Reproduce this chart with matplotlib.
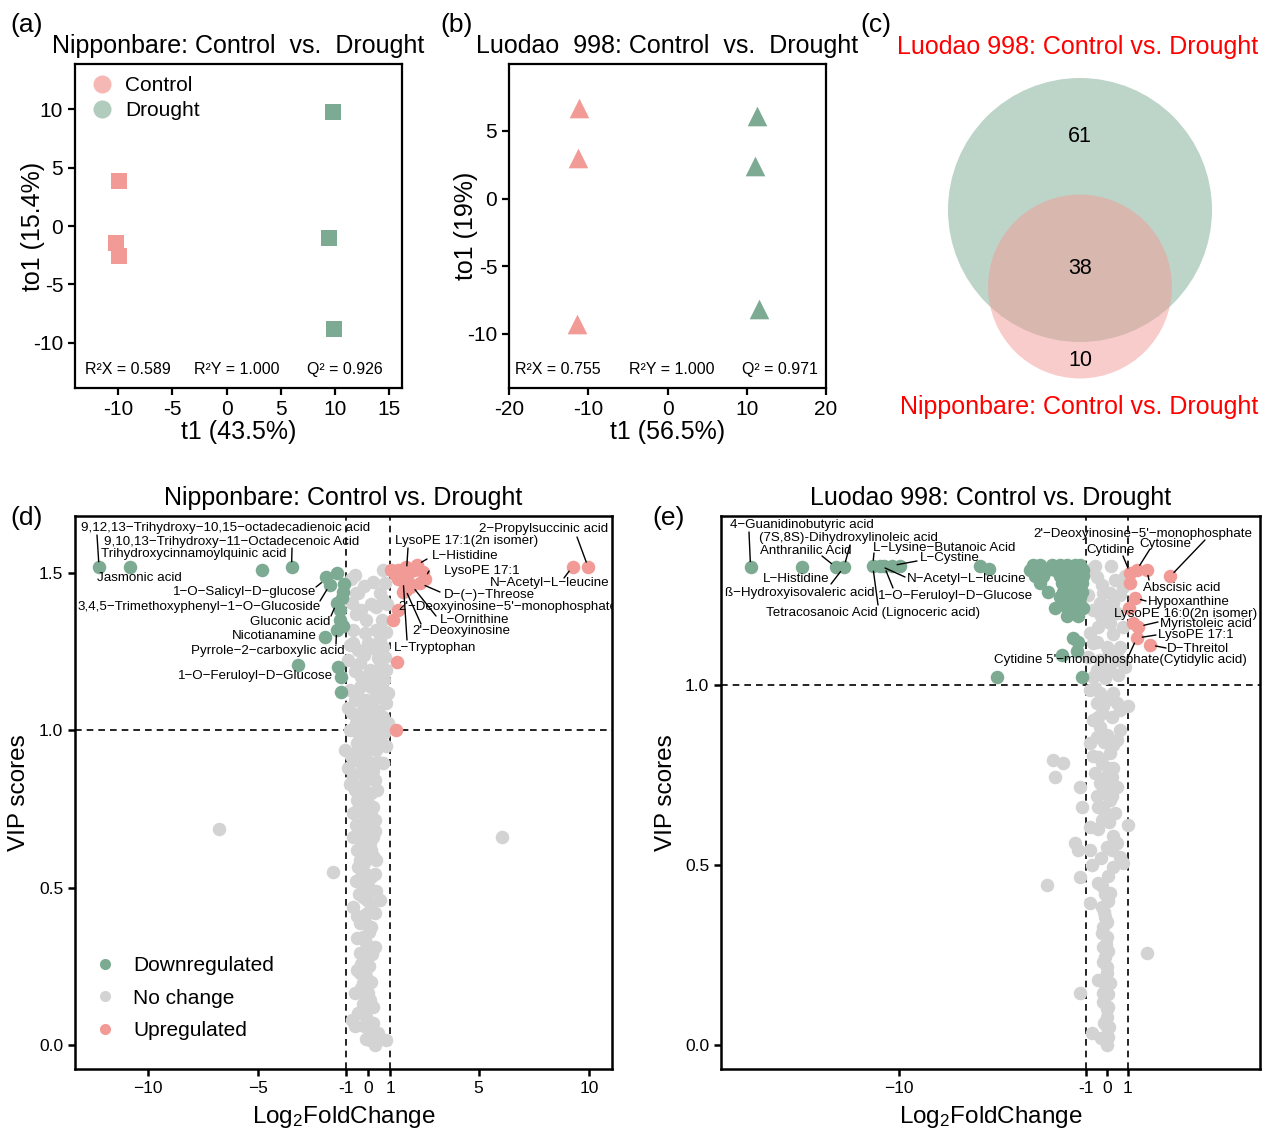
import matplotlib
matplotlib.use("Agg")
import matplotlib.pyplot as plt
from matplotlib.patches import Circle
from matplotlib.lines import Line2D
from matplotlib.transforms import IdentityTransform

plt.rcParams['font.family'] = ['Liberation Sans', 'DejaVu Sans']
plt.rcParams['mathtext.fontset'] = 'custom'
plt.rcParams['mathtext.rm'] = 'Liberation Sans'
plt.rcParams['mathtext.default'] = 'regular'
plt.rcParams['axes.unicode_minus'] = False

W, H = 1262, 1130
GREEN = '#7DAA92'
RED = '#F29B96'
GREY = '#D3D3D3'

# ---- OPLS-DA scores ----
a_control_t1 = [-9.9, -10.2, -9.9]
a_control_to1 = [3.9, -1.5, -2.6]
a_drought_t1 = [9.85, 9.5, 9.95]
a_drought_to1 = [9.74, -1.07, -8.8]
a_stats = ['R²X = 0.589', 'R²Y = 1.000', 'Q² = 0.926']

b_control_t1 = [-11.2, -11.3, -11.4]
b_control_to1 = [6.7, 3.0, -9.3]
b_drought_t1 = [11.3, 11.1, 11.5]
b_drought_to1 = [6.1, 2.4, -8.15]
b_stats = ['R²X = 0.755', 'R²Y = 1.000', 'Q² = 0.971']

# ---- Venn counts ----
venn_only_luodao = 61
venn_shared = 38
venn_only_nip = 10

# ---- volcano (d) Nipponbare ----
d_grey = [(-0.61, 1.493), (0.67, 1.509), (0.75, 1.467), (-0.54, 1.435), (-0.46, 1.435), (0.52, 1.435),
          (-0.76, 1.403), (-0.31, 1.382), (0.37, 1.393), (0.67, 1.414),
          (-0.69, 1.319), (-0.09, 1.350), (0.60, 1.350), (0.82, 1.313),
          (-0.69, 1.276), (-0.46, 1.255), (-0.01, 1.276), (0.29, 1.260), (0.67, 1.266), (0.75, 1.234),
          (-0.92, 1.223), (-0.39, 1.213), (0.07, 1.192), (0.52, 1.202), (0.82, 1.192), (-0.31, 1.170), (0.22, 1.170),
          (-0.84, 1.128), (-0.39, 1.139), (0.14, 1.139), (0.60, 1.139), (-0.61, 1.096), (-0.09, 1.096), (0.45, 1.107),
          (0.82, 1.086), (-0.76, 1.054), (-0.24, 1.064), (0.22, 1.043), (0.67, 1.043), (0.90, 1.022), (-0.54, 1.022),
          (-0.09, 1.022), (-0.69, 1.001), (-0.39, 0.980), (0.14, 0.990), (0.52, 0.969), (-0.16, 0.964),
          (-1.07, 0.937), (-0.61, 0.927), (-0.09, 0.932), (0.37, 0.937), (0.67, 0.895), (-0.54, 0.905), (-0.24, 0.895),
          (-0.92, 0.879), (-0.69, 0.853), (-0.46, 0.821), (-0.09, 0.842), (0.29, 0.842), (-0.61, 0.810), (0.14, 0.800),
          (-0.24, 0.778), (0.22, 0.757), (-0.69, 0.736), (-0.24, 0.736), (-0.31, 0.704), (0.29, 0.715), (-0.16, 0.688),
          (-0.69, 0.662), (-0.09, 0.672), (0.22, 0.662), (-0.31, 0.630), (0.07, 0.641), (-0.24, 0.609), (0.14, 0.620),
          (0.37, 0.588), (-0.39, 0.588), (-0.09, 0.545), (-1.60, 0.551), (-0.31, 0.535), (0.14, 0.535), (-0.24, 0.503),
          (0.29, 0.545), (-0.46, 0.567), (-0.69, 0.439), (-0.24, 0.471), (0.52, 0.461), (0.14, 0.439), (-0.31, 0.408),
          (-0.09, 0.418), (-0.39, 0.387), (0.14, 0.376), (-0.24, 0.344), (0.29, 0.312), (-0.39, 0.291), (-0.09, 0.323),
          (-0.31, 0.259), (-0.16, 0.270), (-0.39, 0.228), (-0.09, 0.217), (-0.24, 0.196), (-0.61, 0.164), (0.0, 0.164),
          (-0.24, 0.132), (0.07, 0.143), (-0.46, 0.101), (-0.09, 0.090), (-0.76, 0.079), (0.22, 0.069),
          (0.0, 0.053), (0.45, 0.037), (0.07, 0.016), (0.82, 0.016), (-6.78, 0.686), (6.05, 0.660),
          (-0.80, 1.48), (-0.20, 1.46), (0.20, 1.47), (0.85, 1.40), (-0.55, 1.37), (0.10, 1.40), (-0.15, 1.31),
          (0.35, 1.32), (0.55, 1.29), (-0.85, 1.27), (-0.20, 1.24), (0.45, 1.23), (-0.60, 1.19), (-0.10, 1.15),
          (0.35, 1.18), (0.70, 1.16), (-0.45, 1.11), (0.25, 1.10), (0.90, 1.12), (-0.90, 1.07), (0.05, 1.06),
          (0.45, 1.06), (-0.35, 1.04), (0.35, 1.01), (-0.85, 1.00), (0.70, 0.99), (-0.20, 0.99), (-0.50, 0.96),
          (0.25, 0.96), (0.80, 0.95), (-0.80, 0.92), (0.05, 0.90), (0.45, 0.90), (-0.35, 0.87), (0.20, 0.87),
          (-0.85, 0.83), (-0.25, 0.82), (0.40, 0.81), (-0.50, 0.78), (0.00, 0.77), (-0.45, 0.75), (0.10, 0.73),
          (-0.55, 0.70), (0.00, 0.70), (-0.45, 0.67), (0.30, 0.68), (-0.15, 0.65), (-0.50, 0.62), (0.20, 0.60),
          (-0.20, 0.58), (-0.55, 0.52), (0.05, 0.50), (0.35, 0.49), (-0.40, 0.48), (-0.05, 0.46), (0.30, 0.42),
          (-0.50, 0.41), (-0.15, 0.39), (0.05, 0.36), (-0.50, 0.34), (-0.05, 0.30), (0.15, 0.29), (-0.25, 0.28),
          (0.05, 0.25), (-0.50, 0.24), (-0.15, 0.23), (0.10, 0.20), (-0.35, 0.18), (-0.10, 0.15), (0.20, 0.12),
          (-0.30, 0.11), (-0.60, 0.06), (-0.20, 0.06), (0.25, 0.04), (-0.10, 0.02), (0.30, 0.00)]
d_down = [(-12.21, 1.518), (-10.82, 1.518), (-4.80, 1.509), (-3.48, 1.518), (-1.44, 1.499), (-1.90, 1.488),
          (-1.75, 1.462), (-1.14, 1.440), (-1.20, 1.419), (-1.44, 1.404), (-1.29, 1.382), (-1.29, 1.350),
          (-1.44, 1.319), (-1.97, 1.297), (-3.18, 1.209), (-1.37, 1.202), (-1.22, 1.170), (-1.22, 1.123),
          (-1.10, 1.465), (-1.15, 1.330)]
d_up = [(1.05, 1.509), (1.20, 1.498), (1.35, 1.509), (1.73, 1.520), (2.19, 1.525), (2.49, 1.504), (2.56, 1.482),
        (2.34, 1.467), (1.96, 1.461), (1.66, 1.451), (1.58, 1.477), (1.35, 1.482), (1.81, 1.498), (1.50, 1.510),
        (2.05, 1.510), (1.35, 1.382), (1.12, 1.350), (1.28, 1.218), (1.73, 1.446), (1.58, 1.440), (1.88, 1.456),
        (9.26, 1.520), (9.97, 1.518), (1.25, 1.001)]
# text, left px, centre y px, connector start px, connected point
d_labels = [
    ("9,12,13−Trihydroxy−10,15−octadecadienoic acid", 81, 528, (97, 535), (-12.21, 1.518)),
    ("9,10,13−Trihydroxy−11−Octadecenoic Acid", 104, 542, (292, 548), (-3.48, 1.518)),
    ("Trihydroxycinnamoylquinic acid", 101, 554, None, None),
    ("Jasmonic acid", 97, 578, None, None),
    ("1−O−Salicyl−D−glucose", 173, 592, (316, 587), (-1.93, 1.48)),
    ("3,4,5−Trimethoxyphenyl−1−O−Glucoside", 78, 607, (320, 601), (-1.75, 1.462)),
    ("Gluconic acid", 250, 622, (331, 616), (-1.44, 1.404)),
    ("Nicotianamine", 232, 636, None, None),
    ("Pyrrole−2−carboxylic acid", 191, 651, (336, 644), (-1.44, 1.319)),
    ("1−O−Feruloyl−D−Glucose", 178, 676, None, None),
    ("2−Propylsuccinic acid", 479, 529, (577, 537), (9.97, 1.518)),
    ("LysoPE 17:1(2n isomer)", 395, 541, (408, 548), (1.73, 1.505)),
    ("L−Histidine", 432, 556, (427, 559), (2.19, 1.525)),
    ("LysoPE 17:1", 444, 571, (429, 571), (2.56, 1.482)),
    ("N−Acetyl−L−leucine", 490, 583, (564, 578), (9.26, 1.52)),
    ("D−(−)−Threose", 444, 595, (440, 592), (2.34, 1.467)),
    ("2'−Deoxyinosine−5'−monophosphate", 398, 607, None, None),
    ("L−Ornithine", 440, 620, (436, 616), (1.96, 1.461)),
    ("2'−Deoxyinosine", 412, 631, (421, 624), (1.66, 1.451)),
    ("L−Tryptophan", 394, 648, (407, 640), (1.58, 1.477)),
]

# ---- volcano (e) Luodao 998 ----
e_grey = [(-0.82, 1.319), (-0.26, 1.278), (-0.18, 1.254), (0.14, 1.254), (0.86, 1.301), (0.78, 1.273),
          (-0.34, 1.227), (0.30, 1.227), (-0.66, 1.208), (0.06, 1.199), (-0.42, 1.162), (-0.82, 1.143),
          (0.14, 1.171), (0.78, 1.162), (-0.66, 1.116), (-0.02, 1.106), (0.62, 1.106), (-0.90, 1.078),
          (-0.34, 1.069), (0.38, 1.069), (0.78, 1.060), (-0.50, 1.041), (0.14, 1.041), (-0.66, 1.023),
          (-0.10, 1.018), (0.54, 1.028), (-0.82, 0.986), (-0.34, 0.977), (0.30, 0.977), (-0.50, 0.949),
          (0.46, 0.949), (1.02, 0.940), (-0.26, 0.921), (-0.66, 0.903), (0.22, 0.912), (-0.34, 0.884),
          (0.62, 0.875), (-0.50, 0.856), (0.46, 0.847), (-0.82, 0.838), (0.30, 0.833), (-0.66, 0.801),
          (-0.26, 0.782), (0.06, 0.768), (-0.58, 0.754), (-0.34, 0.727), (0.22, 0.745), (0.46, 0.717),
          (-0.26, 0.699), (0.14, 0.680), (-2.58, 0.791), (-2.10, 0.782), (-2.50, 0.745), (-1.30, 0.717),
          (-1.22, 0.662), (-0.42, 0.662), (-0.10, 0.643), (0.38, 0.643), (-0.82, 0.606), (-0.26, 0.625),
          (1.02, 0.611), (0.30, 0.579), (-1.54, 0.560), (-1.38, 0.541), (-0.82, 0.541), (0.22, 0.541),
          (0.62, 0.523), (0.78, 0.504), (0.30, 0.495), (-0.74, 0.500), (-1.30, 0.467), (-2.90, 0.444),
          (-0.26, 0.440), (0.14, 0.421), (-0.82, 0.393), (-0.26, 0.384), (-0.10, 0.356), (-0.18, 0.328),
          (-0.02, 0.301), (-0.18, 0.273), (-0.10, 0.245), (1.91, 0.254), (-0.02, 0.217), (-0.42, 0.180),
          (0.14, 0.171), (-1.30, 0.143), (-0.18, 0.143), (0.06, 0.106), (-0.02, 0.078), (-0.74, 0.032),
          (-0.02, 0.051), (0.06, 0.023),
          (-0.50, 1.30), (0.40, 1.29), (-0.05, 1.22), (0.50, 1.20), (-0.30, 1.19), (0.30, 1.14), (-0.50, 1.12),
          (0.10, 1.09), (0.50, 1.09), (-0.20, 1.05), (0.85, 1.05), (-0.60, 0.99), (0.10, 0.96), (-0.20, 0.94),
          (0.60, 0.93), (-0.45, 0.91), (0.00, 0.86), (-0.15, 0.84), (0.15, 0.81), (-0.45, 0.80), (0.30, 0.77),
          (-0.10, 0.74), (0.00, 0.71), (-0.50, 0.69), (0.25, 0.69), (-0.20, 0.66), (0.10, 0.62), (-0.45, 0.60),
          (0.50, 0.56), (0.00, 0.55), (-0.30, 0.52), (0.05, 0.47), (-0.45, 0.45), (-0.10, 0.42), (0.05, 0.40),
          (-0.15, 0.37), (0.00, 0.34), (-0.25, 0.31), (-0.05, 0.28), (0.05, 0.26), (-0.20, 0.23), (0.00, 0.20),
          (-0.10, 0.17), (0.05, 0.14), (-0.20, 0.12), (0.00, 0.10), (-0.15, 0.06), (0.10, 0.05), (-0.30, 0.02),
          (0.00, 0.00), (-0.60, 1.33), (0.20, 1.33), (-0.90, 1.25), (0.60, 1.25)]
e_down = [(-17.13, 1.327), (-14.68, 1.327), (-13.03, 1.327), (-12.64, 1.327), (-11.26, 1.331), (-10.91, 1.331),
          (-10.72, 1.331), (-10.35, 1.331), (-9.95, 1.331), (-6.11, 1.329), (-5.66, 1.321),
          (-3.54, 1.333), (-3.22, 1.333), (-2.66, 1.333), (-2.26, 1.333), (-1.94, 1.333), (-1.54, 1.333), (-1.30, 1.333),
          (-3.70, 1.319), (-3.38, 1.319), (-2.90, 1.319), (-2.50, 1.319), (-2.10, 1.319), (-1.70, 1.319),
          (-1.38, 1.319), (-1.14, 1.319), (-3.46, 1.301), (-3.06, 1.301), (-2.26, 1.301), (-1.94, 1.301),
          (-1.62, 1.301), (-1.30, 1.301), (-1.14, 1.301), (-3.22, 1.282), (-2.18, 1.282), (-1.78, 1.282),
          (-1.46, 1.282), (-1.22, 1.282), (-2.82, 1.259), (-2.10, 1.259), (-1.78, 1.259), (-1.46, 1.259),
          (-1.22, 1.259), (-2.26, 1.245), (-1.86, 1.245), (-1.54, 1.245), (-1.30, 1.245), (-2.10, 1.231),
          (-1.70, 1.231), (-1.38, 1.231), (-2.50, 1.213), (-1.94, 1.213), (-1.46, 1.213), (-1.14, 1.213),
          (-1.94, 1.190), (-1.38, 1.190), (-1.62, 1.130), (-1.38, 1.120), (-1.46, 1.093), (-2.18, 1.083),
          (-5.30, 1.023), (-1.22, 1.023)]
e_up = [(1.11, 1.310), (1.43, 1.319), (1.91, 1.319), (3.03, 1.301), (1.11, 1.282), (1.35, 1.241),
        (1.05, 1.213), (1.27, 1.171), (1.51, 1.162), (1.43, 1.130), (2.07, 1.111)]
e_labels = [
    ("4−Guanidinobutyric acid", 730, 525, (749, 532), (-17.13, 1.327)),
    ("(7S,8S)-Dihydroxylinoleic acid", 759, 538, (850, 545), (-12.64, 1.327)),
    ("Anthranilic Acid", 760, 551, (822, 556), (-13.03, 1.327)),
    ("L−Lysine−Butanoic Acid", 873, 548, (874, 553), (-11.26, 1.331)),
    ("L−Cystine", 920, 558, (917, 561), (-10.35, 1.331)),
    ("L−Histidine", 763, 579, (831, 584), (-12.64, 1.327)),
    ("N−Acetyl−L−leucine", 907, 579, (905, 577), (-10.91, 1.331)),
    ("ß−Hydroxyisovaleric acid", 725, 593, None, None),
    ("1−O−Feruloyl−D−Glucose", 878, 596, (893, 588), (-10.72, 1.331)),
    ("Tetracosanoic Acid (Lignoceric acid)", 766, 613, (878, 605), (-11.26, 1.331)),
    ("2'−Deoxyinosine−5'−monophosphate", 1033, 534, (1205, 540), (3.03, 1.301)),
    ("Cytosine", 1139, 544, (1150, 549), (1.43, 1.319)),
    ("Cytidine", 1086, 550, (1123, 556), (1.11, 1.310)),
    ("Abscisic acid", 1143, 588, (1149, 580), (1.91, 1.319)),
    ("Hypoxanthine", 1148, 602, (1146, 601), (1.35, 1.241)),
    ("LysoPE 16:0(2n isomer)", 1114, 614, None, None),
    ("Myristoleic acid", 1160, 624, (1158, 622), (1.51, 1.162)),
    ("LysoPE 17:1", 1158, 635, (1156, 635), (1.43, 1.130)),
    ("D−Threitol", 1167, 649, (1166, 648), (2.07, 1.111)),
    ("Cytidine 5'−monophosphate(Cytidylic acid)", 994, 660, (1129, 655), (1.43, 1.130)),
]


def box(l, t, r, b):
    return [l / W, 1 - b / H, (r - l) / W, (b - t) / H]


def style_axes(ax, lw=1.6):
    for s in ax.spines.values():
        s.set_linewidth(lw)
    ax.tick_params(width=lw, length=5)


def pca_panel(ax, c_x, c_y, d_x, d_y, marker, size, stats, stat_x):
    ax.scatter(c_x, c_y, marker=marker, s=size, color=RED, linewidths=0, zorder=3)
    ax.scatter(d_x, d_y, marker=marker, s=size, color=GREEN, linewidths=0, zorder=3)
    for txt, sx in zip(stats, stat_x):
        ax.text(sx, 0.056, txt, transform=ax.transAxes, fontsize=11.5, va='center', ha='left')
    style_axes(ax)
    ax.tick_params(labelsize=15)


def volcano(ax, grey, down, up, labels):
    ax.scatter([p[0] for p in grey], [p[1] for p in grey], s=95, color=GREY, linewidths=0, zorder=2)
    ax.scatter([p[0] for p in down], [p[1] for p in down], s=95, color=GREEN, linewidths=0, zorder=3)
    ax.scatter([p[0] for p in up], [p[1] for p in up], s=95, color=RED, linewidths=0, zorder=3)
    for v in (-1, 1):
        ax.axvline(v, color='black', lw=1.2, ls=(0, (4, 3)), zorder=1)
    ax.axhline(1.0, color='black', lw=1.2, ls=(0, (4, 3)), zorder=1)
    for txt, lx, ly, start, pt in labels:
        ax.text(lx, H - ly, txt, transform=IdentityTransform(), fontsize=9.6,
                ha='left', va='center', clip_on=True, zorder=5)
        if start is not None:
            ax.annotate('', xy=pt, xycoords='data', xytext=(start[0], H - start[1]),
                        textcoords='figure pixels',
                        arrowprops=dict(arrowstyle='-', color='black', lw=1.0, shrinkA=0, shrinkB=4),
                        zorder=4)
    style_axes(ax, 1.8)
    ax.tick_params(labelsize=12.5)
    ax.set_xlabel('Log$_2$FoldChange', fontsize=17.5, labelpad=6)
    ax.set_ylabel('VIP scores', fontsize=17.5, labelpad=6)


fig = plt.figure(figsize=(W / 100, H / 100), dpi=100)

# (a)
ax = fig.add_axes(box(75, 64, 402, 388))
pca_panel(ax, a_control_t1, a_control_to1, a_drought_t1, a_drought_to1, 's', 135, a_stats, [0.03, 0.364, 0.709])
ax.set_xlim(-14, 16.2)
ax.set_ylim(-13.9, 13.9)
ax.set_xticks([-10, -5, 0, 5, 10, 15])
ax.set_yticks([-10, -5, 0, 5, 10])
ax.set_xlabel('t1 (43.5%)', fontsize=18, labelpad=1)
ax.set_ylabel('to1 (15.4%)', fontsize=18)
ax.yaxis.set_label_coords(-0.092, 0.5)
ax.set_title('Nipponbare: Control  vs.  Drought', fontsize=18, pad=8)
handles = [Line2D([], [], marker='o', ls='', markersize=13, color=RED, alpha=0.7, markeredgewidth=0),
           Line2D([], [], marker='o', ls='', markersize=13, color=GREEN, alpha=0.6, markeredgewidth=0)]
ax.legend(handles, ['Control', 'Drought'], loc='upper left', bbox_to_anchor=(0.025, 0.988), frameon=False,
          fontsize=15, handletextpad=0.6, labelspacing=0.3, borderaxespad=0, handlelength=1.0)

# (b)
ax = fig.add_axes(box(509, 64, 826, 388))
pca_panel(ax, b_control_t1, b_control_to1, b_drought_t1, b_drought_to1, '^', 200, b_stats, [0.019, 0.379, 0.735])
ax.set_xlim(-20, 20)
ax.set_ylim(-14, 9.95)
ax.set_xticks([-20, -10, 0, 10, 20])
ax.set_yticks([-10, -5, 0, 5])
ax.set_xlabel('t1 (56.5%)', fontsize=18, labelpad=1)
ax.set_ylabel('to1 (19%)', fontsize=18)
ax.yaxis.set_label_coords(-0.098, 0.5)
ax.set_title('Luodao  998: Control  vs.  Drought', fontsize=18, pad=8)

# (c) Venn
axc = fig.add_axes(box(880, 60, 1262, 420))
axc.set_xlim(880, 1262)
axc.set_ylim(420, 60)
axc.axis('off')
n_luodao = venn_only_luodao + venn_shared
n_nip = venn_only_nip + venn_shared
k = 132 / n_luodao ** 0.5
big_r = k * n_luodao ** 0.5
small_r = k * n_nip ** 0.5
axc.add_patch(Circle((1080, 210), big_r, facecolor=GREEN, alpha=0.5, lw=0))
axc.add_patch(Circle((1080, 210 + 0.58 * big_r), small_r, facecolor=RED, alpha=0.5, lw=0))
axc.text(1080, 137, str(venn_only_luodao), fontsize=15.5, ha='center', va='center')
axc.text(1080, 268, str(venn_shared), fontsize=15.5, ha='center', va='center')
axc.text(1080, 361, str(venn_only_nip), fontsize=15.5, ha='center', va='center')
fig.text(1078 / W, 1 - 47 / H, 'Luodao 998: Control vs. Drought', color='red', fontsize=18, ha='center', va='center')
fig.text(1079 / W, 1 - 407 / H, 'Nipponbare: Control vs. Drought', color='red', fontsize=18, ha='center', va='center')

# (d)
ax = fig.add_axes(box(75, 516, 612, 1069))
volcano(ax, d_grey, d_down, d_up, d_labels)
ax.set_xlim(-13.3, 11.05)
ax.set_ylim(-0.076, 1.681)
ax.set_xticks([-10, -5, -1, 0, 1, 5, 10])
ax.set_xticklabels(['−10', '−5', '-1', '0', '1', '5', '10'])
ax.set_yticks([0, 0.5, 1.0, 1.5])
ax.set_yticklabels(['0.0', '0.5', '1.0', '1.5'])
ax.set_title('Nipponbare: Control vs. Drought', fontsize=18, pad=8)
handles = [Line2D([], [], marker='o', ls='', markersize=8, color=c, markeredgewidth=0) for c in (GREEN, GREY, RED)]
ax.legend(handles, ['Downregulated', 'No change', 'Upregulated'], loc='lower left',
          bbox_to_anchor=(0.021, 0.037), frameon=False, fontsize=15, handletextpad=0.85,
          labelspacing=0.65, borderaxespad=0, handlelength=1.0)

# (e)
ax = fig.add_axes(box(721, 516, 1260, 1069))
volcano(ax, e_grey, e_down, e_up, e_labels)
ax.set_xlim(-18.55, 7.35)
ax.set_ylim(-0.067, 1.469)
ax.set_xticks([-10, -1, 0, 1])
ax.set_xticklabels(['−10', '-1', '0', '1'])
ax.set_yticks([0, 0.5, 1.0])
ax.set_yticklabels(['0.0', '0.5', '1.0'])
ax.set_title('Luodao 998: Control vs. Drought', fontsize=18, pad=8)

for lab, x, y in [('(a)', 10, 25), ('(b)', 440, 25), ('(c)', 860, 25), ('(d)', 10, 518), ('(e)', 652, 518)]:
    fig.text(x / W, 1 - y / H, lab, fontsize=19, ha='left', va='center')

fig.savefig('out.png', dpi=100)
